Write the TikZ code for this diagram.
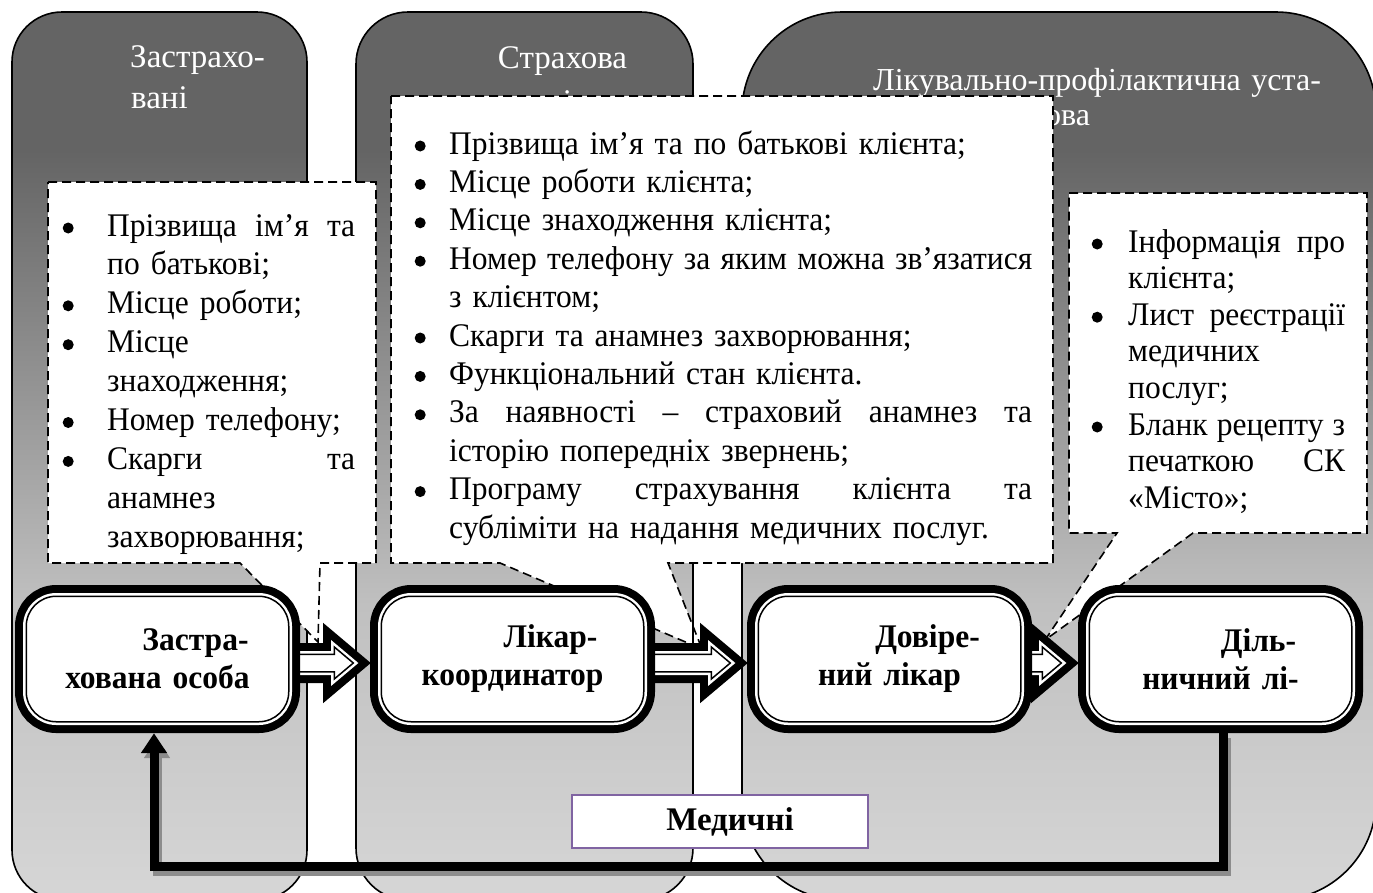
\documentclass[tikz,border=0pt]{standalone}
\usepackage{fontspec}
\setmainfont{Liberation Serif}
\newfontfamily\narrowserif{Liberation Serif}[FakeStretch=0.955]
\usetikzlibrary{arrows.meta,calc}

\definecolor{coltop}{HTML}{646464}
\definecolor{colmid}{HTML}{C0C0C0}
\definecolor{colbot}{HTML}{D6D6D6}
\definecolor{medframe}{HTML}{8064A2}
\definecolor{fbshade}{HTML}{8C8C8C}

% dark at the top, light towards the bottom of each column
\pgfdeclareverticalshading{columnshade}{100bp}{%
  color(0bp)=(colbot); color(25bp)=(colbot); color(41.6bp)=(colmid);
  color(67.2bp)=(coltop); color(100bp)=(coltop)}

% bullet list helpers: round bullet + hanging indent, justified lines
\newlength\hangw
\newcommand\bulletdot{\tikz[baseline=0pt]\fill[black] (0pt,8pt) circle (5.5pt);}
\newcommand\itm[1]{\makebox[\hangw][l]{\hspace*{1pt}\bulletdot}#1}
\newcommand\cnt[1]{\hspace*{\hangw}#1}
\newcommand\jst[2]{\hbox to #1{#2}}

\tikzset{
  column/.style={shading=columnshade, draw=black, line width=1.6pt},
  colline/.style={draw=black, line width=1.6pt},
  collabel/.style={text=white, anchor=base, inner sep=0pt, align=center},
  callout/.style={fill=white, draw=black, line width=1.6pt, dash pattern=on 9pt off 5pt},
  listtext/.style={anchor=base west, inner sep=0pt, align=left},
  procbox/.style={rectangle, rounded corners=30pt, minimum width=262.5pt,
    minimum height=125.5pt, inner sep=0pt, text width=250pt, align=center,
    font=\narrowserif\fontsize{33}{38}\selectfont\bfseries, fill=white,
    preaction={draw=black, line width=22.5pt},
    postaction={draw=white, line width=6.5pt},
    postaction={draw=black, line width=1.5pt}},
  boxslot/.style={rectangle, minimum width=262.5pt, minimum height=125.5pt, inner sep=0pt},
  blockarrow/.style={fill=white, line join=miter,
    preaction={draw=black, line width=22.5pt, line join=miter},
    postaction={draw=white, line width=6.5pt},
    postaction={draw=black, line width=1.5pt}},
  feedback/.style={draw=black, line width=9pt, -{Triangle[length=20pt,width=25pt]}},
  fbshadow/.style={draw=fbshade, line width=9pt, -{Triangle[length=20pt,width=25pt]},
    transform canvas={shift={(3pt,-5pt)}}},
  medbox/.style={draw=medframe, line width=2pt, fill=white, minimum width=296pt,
    minimum height=53pt, inner sep=0pt, font=\fontsize{33}{38}\selectfont\bfseries}
}

% block arrow from the right side of one box to the left side of the next
\newcommand\flowarrow[2]{%
  \path[blockarrow] let \p1=(#1.east), \p2=(#2.west) in
    (\x1-6pt,\y1-4pt+8.75pt) -- (\x2-46.75pt,\y1-4pt+8.75pt) -- (\x2-46.75pt,\y1-4pt+16pt)
    -- (\x2-27.75pt,\y1-4pt) -- (\x2-46.75pt,\y1-4pt-16pt) -- (\x2-46.75pt,\y1-4pt-8.75pt)
    -- (\x1-6pt,\y1-4pt-8.75pt) -- cycle;}

\begin{document}
\begin{tikzpicture}[x=1pt, y=-1pt]
\useasboundingbox (0,0) rectangle (1373,892);

% three participant columns
\path[column, rounded corners=50pt] (12,900) -- (12,12) -- (307,12) -- (307,900) -- cycle;
\path[column, rounded corners=52pt] (356,900) -- (356,12) -- (693,12) -- (693,900) -- cycle;
\path[column, rounded corners=100pt] (742,900) -- (742,12) -- (1376,12) -- (1376,900) -- cycle;

% column titles
\node[collabel, text width=280pt, font=\fontsize{33}{41}\selectfont] (lblA) at (159.5,67)
  {\hspace*{76pt}Застрахо-\\вані};
\node[collabel, text width=320pt, font=\fontsize{33}{44}\selectfont] (lblB) at (524.5,68)
  {\hspace*{76pt}Страхова\\компанія};
\node[collabel, text width=600pt, font=\fontsize{32}{35}\selectfont] (lblC) at (1059,90)
  {\hspace*{76pt}Лікувально-профілактична уста-\\нова};

% dashed callouts with their tails
\path[callout] (48,182) -- (376,182) -- (376,563) -- (320,563) -- (318,642) -- (240,563) -- (48,563) -- cycle;
\path[callout] (391,96) -- (1053,96) -- (1053,563) -- (668,563) -- (702,649) -- (500,563) -- (391,563) -- cycle;
\path[callout] (1069,193) -- (1367,193) -- (1367,533) -- (1193,533) -- (1045,640) -- (1117,533) -- (1069,533) -- cycle;
\draw[colline] (693,563) -- (693,660);

% callout lists
\node[listtext, text width=294pt, font=\narrowserif\fontsize{33}{38.9}\selectfont] (listA) at (61.5,236)
  {\setlength\hangw{45.5pt}%
   \itm{\jst{248pt}{Прізвища\hfill ім’я\hfill та}}\\
   \cnt{по батькові;}\\
   \itm{Місце роботи;}\\
   \itm{Місце}\\
   \cnt{знаходження;}\\
   \itm{Номер телефону;}\\
   \itm{\jst{248pt}{Скарги\hfill та}}\\
   \cnt{анамнез}\\
   \cnt{захворювання;}};
\node[listtext, text width=620pt, font=\narrowserif\fontsize{33}{38.4}\selectfont] (listB) at (413.5,154)
  {\setlength\hangw{35.5pt}%
   \itm{Прізвища ім’я та по батькові клієнта;}\\
   \itm{Місце роботи клієнта;}\\
   \itm{Місце знаходження клієнта;}\\
   \itm{\jst{583pt}{Номер\hfill телефону\hfill за\hfill яким\hfill можна\hfill зв’язатися}}\\
   \cnt{з клієнтом;}\\
   \itm{Скарги та анамнез захворювання;}\\
   \itm{Функціональний стан клієнта.}\\
   \itm{\jst{583pt}{За\hfill наявності\hfill –\hfill страховий\hfill анамнез\hfill та}}\\
   \cnt{історію попередніх звернень;}\\
   \itm{\jst{583pt}{Програму\hfill страхування\hfill клієнта\hfill та}}\\
   \cnt{субліміти на надання медичних послуг.}};
\node[listtext, text width=256pt, font=\narrowserif\fontsize{33}{36.6}\selectfont] (listC) at (1090.5,252)
  {\setlength\hangw{37.5pt}%
   \itm{\jst{217pt}{Інформація\hfill про}}\\
   \cnt{клієнта;}\\
   \itm{\jst{217pt}{Лист\hfill реєстрації}}\\
   \cnt{медичних}\\
   \cnt{послуг;}\\
   \itm{\jst{217pt}{Бланк\hfill рецепту\hfill з}}\\
   \cnt{\jst{217pt}{печаткою\hfill СК}}\\
   \cnt{«Місто»;}};

% slots for the process boxes, so the arrows can be laid beneath them
\node[boxslot] (s1) at (157.5,659) {};
\node[boxslot] (s2) at (512.5,659) {};
\node[boxslot] (s3) at (889.5,659) {};
\node[boxslot] (s4) at (1220.5,659) {};

\flowarrow{s1}{s2}
\flowarrow{s2}{s3}
\flowarrow{s3}{s4}

\node[procbox] (p1) at (s1) {\hspace*{76pt}Застра-\\хована особа};
\node[procbox] (p2) at (s2) {\hspace*{76pt}Лікар-\\координатор};
\node[procbox] (p3) at (s3) {\hspace*{76pt}Довіре-\\ний лікар};
\node[procbox] (p4) at (s4) {\hspace*{76pt}Діль-\\ничний лі-};

% return path from the last box back to the first one
\coordinate (fbR) at ($(p4.south)+(2.5,144.25)$);
\coordinate (fbL) at ($(p1.south)+(-3.5,144.25)$);
\draw[fbshadow] ($(p4.south)+(2.5,11.25)$) -- (fbR) -- (fbL) -- ($(p1.south)+(-3.5,11.25)$);
\draw[feedback] ($(p4.south)+(2.5,11.25)$) -- (fbR) -- (fbL) -- ($(p1.south)+(-3.5,11.25)$);

\node[medbox] (med) at (720,821.5) {\hspace*{20pt}Медичні};
\end{tikzpicture}
\end{document}
